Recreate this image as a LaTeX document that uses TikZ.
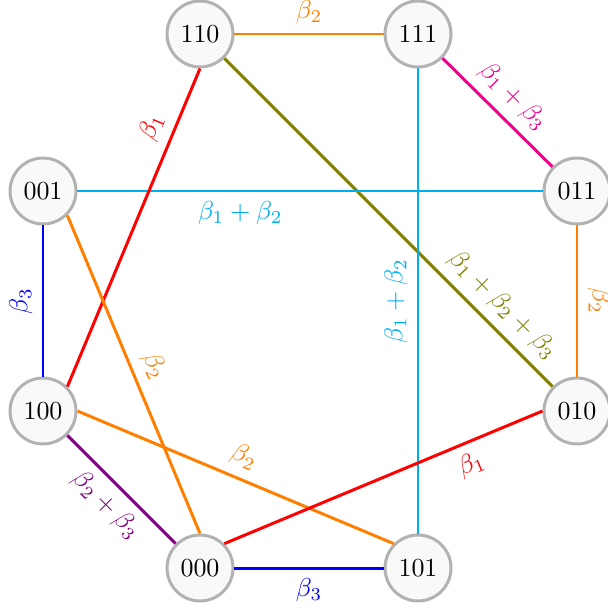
\documentclass[tikz,border=0pt]{standalone}
\usepackage{amsmath}
\definecolor{corange}{RGB}{255,128,0}
\definecolor{ccyan}{RGB}{0,174,239}
\definecolor{cmag}{RGB}{236,0,140}
\definecolor{colive}{RGB}{128,128,0}
\definecolor{cpurple}{RGB}{128,0,128}
\definecolor{cred}{RGB}{255,0,0}
\definecolor{cblue}{RGB}{0,0,255}
\tikzset{
  state/.style={circle, draw=gray!60, fill=gray!5, line width=1.15pt, minimum size=25.4pt, inner sep=0pt},
  edge/.style={line width=1.15pt},
  lab/.style={sloped, inner sep=3.5pt}
}
\begin{document}
\begin{tikzpicture}[x=0.385pt, y=-0.385pt]
\useasboundingbox (0,0) rectangle (608,610);
\node[state] (n110) at (200,34) {110};
\node[state] (n111) at (418,34) {111};
\node[state] (n001) at (43,191) {001};
\node[state] (n011) at (577,191) {011};
\node[state] (n100) at (43,411) {100};
\node[state] (n010) at (577,411) {010};
\node[state] (n000) at (200,568) {000};
\node[state] (n101) at (418,568) {101};
\draw[edge, corange] (n110) -- node[lab, above, text=corange] {$\beta_2$} (n111);
\draw[edge, cmag] (n111) -- node[lab, above, text=cmag] {$\beta_1+\beta_3$} (n011);
\draw[edge, colive] (n110) -- node[lab, above, pos=0.8, text=colive] {$\beta_1+\beta_2+\beta_3$} (n010);
\draw[edge, ccyan] (n101) -- node[lab, above, text=ccyan] {$\beta_1+\beta_2$} (n111);
\draw[edge, ccyan] (n001) -- node[lab, below, pos=0.35, text=ccyan] {$\beta_1+\beta_2$} (n011);
\draw[edge, cred] (n100.north east) -- node[lab, above, pos=0.79, text=cred] {$\beta_1$} (n110.south);
\draw[edge, cblue] (n100) -- node[lab, above, text=cblue] {$\beta_3$} (n001);
\draw[edge, corange] (n001.south east) -- node[lab, above, text=corange] {$\beta_2$} (n000.north);
\draw[edge, corange] (n011) -- node[lab, above, text=corange] {$\beta_2$} (n010);
\draw[edge, corange] (n100.east) -- node[lab, above, text=corange] {$\beta_2$} (n101.north west);
\draw[edge, cred] (n000.north east) -- node[lab, below, pos=0.75, text=cred] {$\beta_1$} (n010.west);
\draw[edge, cpurple] (n100) -- node[lab, below, text=cpurple] {$\beta_2+\beta_3$} (n000);
\draw[edge, cblue] (n000) -- node[lab, below, text=cblue] {$\beta_3$} (n101);
\end{tikzpicture}
\end{document}
